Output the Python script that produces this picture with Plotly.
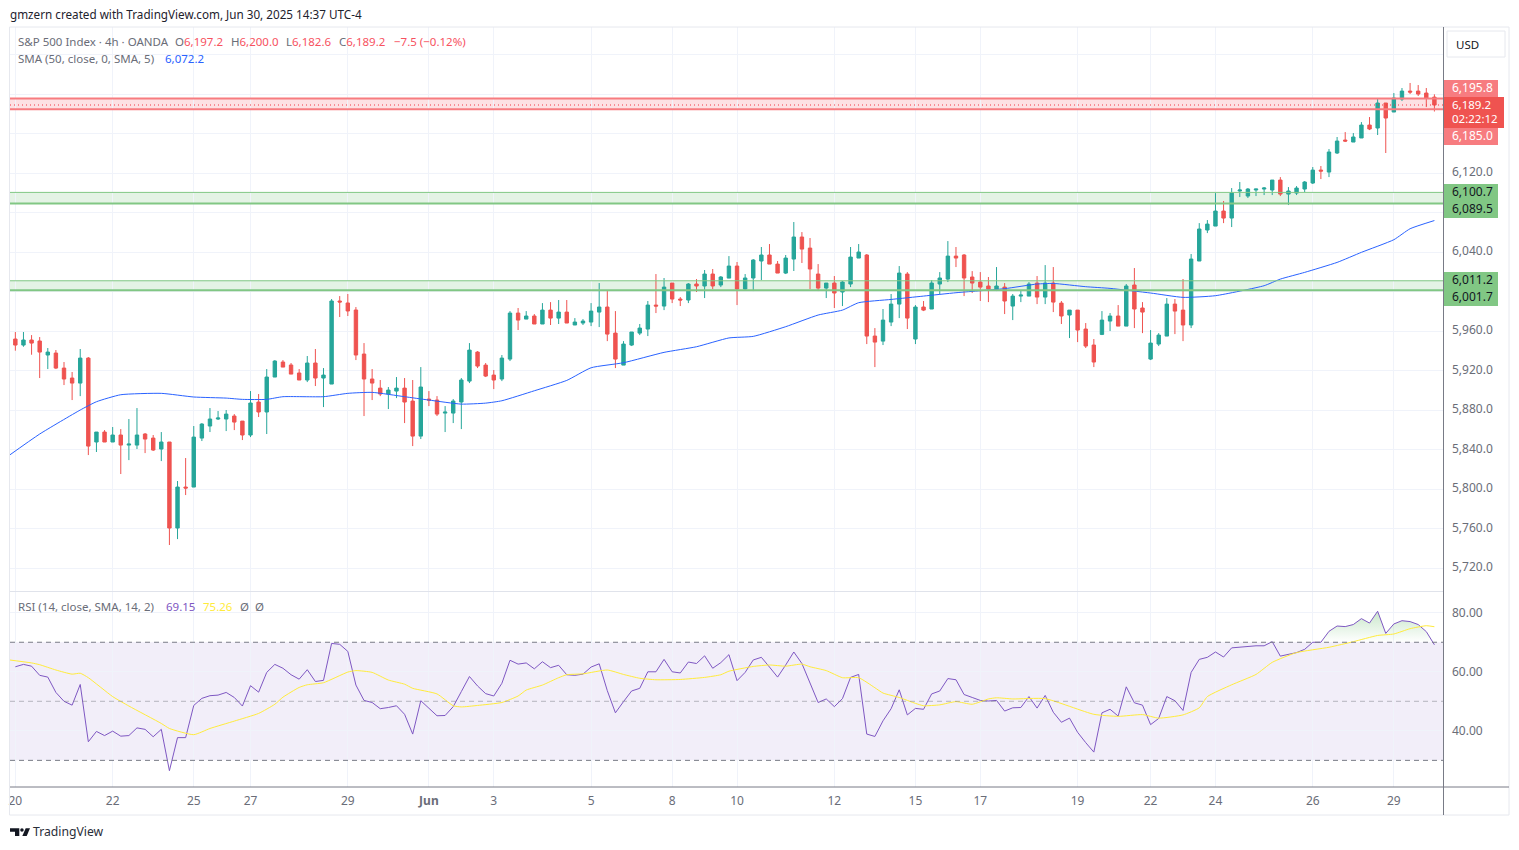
import plotly.graph_objects as go
from plotly.subplots import make_subplots

opens = [5952.2, 5946.1, 5951.2, 5950.2, 5936.0, 5938.0, 5922.8, 5912.7, 5907.6, 5932.9,
         5847.9, 5858.0, 5847.9, 5855.0, 5844.8, 5844.8, 5856.0, 5851.9, 5840.8, 5847.9,
         5760.8, 5802.3, 5802.3, 5851.9, 5864.1, 5871.2, 5871.2, 5874.2, 5869.1, 5855.0,
         5888.4, 5878.3, 5913.7, 5928.9, 5925.9, 5917.8, 5910.7, 5927.9, 5912.7, 5906.6,
         5990.7, 5988.7, 5981.6, 5937.0, 5911.7, 5902.5, 5896.5, 5899.5, 5902.5, 5889.4,
         5853.9, 5891.4, 5890.4, 5877.2, 5877.2, 5888.4, 5909.6, 5939.0, 5925.8, 5915.7,
         5911.7, 5931.9, 5978.5, 5972.4, 5975.5, 5967.4, 5981.5, 5973.4, 5979.5, 5966.4,
         5968.4, 5969.4, 5979.5, 5984.6, 5958.2, 5925.8, 5946.1, 5958.2, 5962.3, 5986.6,
         5985.6, 6008.9, 5992.7, 5991.7, 6007.9, 6005.9, 6018.0, 6006.9, 6013.9, 6026.1,
         6002.8, 6014.0, 6031.2, 6037.3, 6028.1, 6019.0, 6033.2, 6055.5, 6044.3, 6018.0,
         6003.8, 6008.9, 5999.8, 6007.9, 6034.2, 6037.3, 5955.2, 5950.1, 5969.4, 5987.6,
         6018.0, 5952.2, 5984.6, 5982.6, 6007.9, 6012.9, 6036.2, 6037.3, 6015.0, 6009.9,
         6005.9, 6002.8, 6004.8, 5985.6, 5995.7, 5995.7, 6008.9, 5994.7, 6008.9, 5988.6,
         5976.5, 5981.5, 5962.3, 5946.1, 5956.9, 5970.4, 5975.5, 5965.3, 6006.9, 5983.6,
         5931.9, 5947.1, 5955.2, 5987.6, 5981.5, 5966.4, 6031.2, 6062.6, 6066.6, 6081.8,
         6074.7, 6102.1, 6097.0, 6103.1, 6104.1, 6103.1, 6113.2, 6099.0, 6100.0, 6104.1,
         6110.2, 6123.3, 6121.3, 6140.6, 6153.7, 6151.7, 6155.8, 6168.9, 6165.9, 6191.2,
         6182.1, 6195.2, 6203.3, 6203.3, 6201.3, 6197.2]
highs = [5959.3, 5959.3, 5956.2, 5954.2, 5943.1, 5941.1, 5928.9, 5918.8, 5942.1, 5934.0,
         5858.0, 5860.0, 5863.1, 5861.0, 5871.2, 5882.3, 5857.0, 5855.0, 5858.0, 5847.9,
         5808.4, 5831.7, 5864.1, 5867.1, 5882.3, 5879.3, 5880.3, 5876.2, 5869.1, 5899.5,
         5896.5, 5921.8, 5930.9, 5930.9, 5927.9, 5921.8, 5935.0, 5942.1, 5922.8, 5992.7,
         5995.7, 5997.8, 5984.6, 5948.1, 5921.8, 5910.7, 5903.6, 5913.7, 5912.7, 5910.7,
         5923.8, 5899.5, 5894.4, 5884.3, 5891.4, 5912.7, 5948.1, 5940.0, 5927.9, 5920.8,
         5936.0, 5980.5, 5983.6, 5980.5, 5977.5, 5988.6, 5989.6, 5991.7, 5991.7, 5973.4,
         5972.4, 5988.6, 6008.9, 6000.8, 5980.5, 5950.1, 5959.3, 5967.4, 5990.7, 6018.0,
         6014.0, 6008.9, 5994.7, 6008.9, 6012.9, 6022.1, 6023.1, 6016.0, 6036.2, 6030.2,
         6018.0, 6033.2, 6045.4, 6048.4, 6031.2, 6037.3, 6070.7, 6060.5, 6054.5, 6028.1,
         6008.9, 6016.0, 6010.9, 6045.4, 6048.4, 6038.3, 5963.3, 5982.6, 5997.8, 6026.1,
         6020.0, 5986.6, 5990.7, 6011.9, 6020.0, 6051.4, 6045.4, 6038.3, 6021.0, 6020.0,
         6015.0, 6025.1, 6008.9, 5997.8, 6001.8, 6009.9, 6016.0, 6027.1, 6025.1, 5990.7,
         5981.5, 5981.5, 5968.4, 5952.2, 5980.5, 5978.5, 5986.6, 6007.9, 6024.1, 5989.6,
         5961.3, 5958.2, 5993.7, 5992.7, 6013.0, 6038.3, 6069.6, 6072.7, 6100.0, 6092.0,
         6105.1, 6111.2, 6105.1, 6104.1, 6106.1, 6113.2, 6116.2, 6106.1, 6107.1, 6112.2,
         6126.4, 6127.4, 6144.6, 6156.8, 6161.8, 6160.8, 6171.9, 6177.0, 6196.3, 6191.2,
         6201.3, 6206.4, 6211.5, 6209.4, 6206.4, 6200.0]
lows = [5940.4, 5944.4, 5936.3, 5912.7, 5921.8, 5921.8, 5905.6, 5890.4, 5894.4, 5834.7,
        5837.8, 5847.9, 5847.9, 5815.5, 5829.6, 5840.8, 5836.7, 5838.8, 5828.6, 5743.6,
        5749.6, 5794.2, 5802.3, 5848.9, 5858.0, 5870.2, 5859.0, 5860.0, 5849.9, 5852.9,
        5873.2, 5856.0, 5913.7, 5923.8, 5916.7, 5910.7, 5908.6, 5904.6, 5883.3, 5906.6,
        5974.5, 5975.5, 5930.9, 5874.2, 5890.4, 5894.4, 5881.3, 5892.4, 5867.1, 5843.8,
        5850.9, 5884.3, 5874.2, 5858.0, 5867.1, 5861.0, 5907.6, 5922.8, 5913.7, 5901.5,
        5909.6, 5929.9, 5961.3, 5972.4, 5967.4, 5967.4, 5966.4, 5967.4, 5968.4, 5966.4,
        5966.4, 5965.3, 5964.3, 5950.1, 5922.8, 5925.8, 5945.1, 5956.2, 5955.2, 5978.5,
        5981.5, 5988.6, 5985.6, 5988.6, 5999.8, 5993.7, 6002.8, 6004.8, 6013.9, 5986.6,
        6001.8, 6000.8, 6011.9, 6028.1, 6019.0, 6018.0, 6021.1, 6029.2, 6002.8, 6000.8,
        5993.7, 5983.6, 5985.6, 6004.8, 6034.2, 5947.1, 5923.8, 5946.1, 5965.3, 5973.4,
        5962.3, 5947.1, 5980.5, 5982.6, 5997.8, 6009.9, 6025.1, 5995.7, 5998.8, 5990.7,
        5989.6, 6000.8, 5977.5, 5971.4, 5989.6, 5995.7, 5987.6, 5987.6, 5979.5, 5967.4,
        5953.2, 5949.1, 5943.1, 5923.8, 5956.2, 5960.3, 5965.3, 5965.3, 5963.3, 5958.2,
        5930.9, 5945.1, 5955.2, 5957.2, 5950.1, 5963.3, 6031.2, 6059.5, 6066.6, 6069.6,
        6065.6, 6096.0, 6095.0, 6097.0, 6098.0, 6098.0, 6097.0, 6087.9, 6098.0, 6101.1,
        6109.2, 6114.2, 6116.2, 6139.6, 6151.7, 6151.7, 6155.8, 6163.8, 6158.8, 6140.6,
        6182.1, 6193.2, 6200.3, 6198.3, 6187.1, 6182.6]
closes = [5946.1, 5951.2, 5948.1, 5939.0, 5939.0, 5922.8, 5911.7, 5907.6, 5932.9, 5843.8,
          5858.0, 5847.9, 5855.0, 5844.8, 5845.8, 5855.0, 5850.9, 5839.8, 5847.9, 5760.8,
          5802.3, 5801.3, 5852.9, 5866.1, 5871.2, 5872.2, 5876.2, 5868.1, 5855.0, 5887.4,
          5878.3, 5913.7, 5929.9, 5923.8, 5916.7, 5910.7, 5927.9, 5912.7, 5915.7, 5990.7,
          5989.7, 5980.6, 5936.0, 5911.7, 5907.6, 5896.5, 5900.5, 5902.5, 5888.4, 5853.9,
          5903.6, 5890.4, 5876.2, 5878.2, 5889.4, 5910.7, 5941.0, 5924.8, 5914.7, 5910.7,
          5932.9, 5978.5, 5971.4, 5975.5, 5967.4, 5981.5, 5973.4, 5979.5, 5968.4, 5969.4,
          5970.4, 5980.5, 5984.6, 5957.2, 5931.9, 5947.1, 5959.3, 5963.3, 5986.6, 5985.6,
          6004.8, 5992.7, 5991.7, 6007.9, 6005.9, 6018.0, 6005.9, 6015.0, 6026.1, 6002.8,
          6014.0, 6032.2, 6037.3, 6028.1, 6019.0, 6034.2, 6055.5, 6043.3, 6023.1, 6003.8,
          6008.9, 5998.8, 6009.9, 6035.2, 6040.3, 5955.2, 5949.1, 5971.4, 5987.6, 6019.0,
          5973.4, 5984.6, 5981.5, 6008.9, 6014.0, 6036.2, 6034.2, 6014.0, 6008.9, 6004.8,
          6002.8, 6005.9, 5990.7, 5995.7, 5996.7, 6007.9, 5994.7, 6008.9, 5989.6, 5975.5,
          5981.5, 5961.3, 5945.1, 5928.9, 5971.4, 5975.5, 5965.3, 6005.9, 5982.6, 5979.5,
          5948.1, 5956.2, 5987.6, 5980.5, 5966.4, 6033.2, 6063.6, 6068.6, 6081.8, 6074.7,
          6100.0, 6103.1, 6104.1, 6104.1, 6105.1, 6113.2, 6099.0, 6102.1, 6105.1, 6111.2,
          6123.3, 6122.3, 6141.6, 6152.7, 6152.7, 6156.8, 6168.9, 6164.9, 6191.2, 6176.0,
          6196.3, 6203.3, 6202.3, 6200.3, 6196.3, 6189.2]

sma_idx = [-1, 3, 8, 10, 13, 18, 22, 26, 28, 31, 33, 38, 41, 44, 48, 51, 55, 58, 60, 64, 68, 71,
           75, 80, 84, 88, 91, 95, 99, 102, 104, 108, 112, 116, 119, 122, 126, 128, 132, 135,
           140, 144, 148, 154, 156, 159, 163, 166, 170, 172, 175]
sma_vals = [5833.0, 5856.0, 5880.3, 5888.7, 5895.8, 5897.2, 5893.5, 5892.4, 5891.1, 5891.1, 5893.8,
            5893.8, 5897.2, 5898.2, 5893.8, 5890.4, 5886.3, 5887.3, 5889.7, 5899.8, 5910.3, 5923.1,
            5928.2, 5938.7, 5944.4, 5953.3, 5954.9, 5964.7, 5976.5, 5981.5, 5989.0, 5992.3, 5995.7,
            5999.1, 6001.1, 6003.2, 6007.9, 6008.5, 6005.2, 6003.5, 5998.8, 5994.4, 5996.1, 6006.2,
            6012.9, 6019.7, 6029.8, 6040.0, 6052.8, 6063.9, 6072.2]

rsi = [61.7, 62.5, 61.9, 58.8, 58.2, 53.0, 50.0, 48.7, 55.7, 36.3, 39.8, 38.4, 39.9, 38.2, 38.4, 41.0,
       40.5, 38.0, 40.5, 26.5, 37.7, 37.7, 48.6, 51.0, 51.9, 52.1, 53.0, 51.3, 48.4, 55.3, 53.1, 59.8,
       62.5, 61.2, 59.0, 57.5, 60.7, 56.7, 57.1, 69.6, 69.3, 66.9, 55.5, 50.3, 49.6, 47.5, 47.9, 48.5,
       45.6, 38.9, 50.2, 47.7, 45.1, 45.2, 48.2, 53.3, 58.4, 55.2, 52.6, 51.8, 56.1, 63.9, 62.6, 63.0,
       61.0, 63.4, 61.4, 62.2, 59.0, 58.8, 59.2, 61.6, 62.7, 53.6, 46.1, 49.9, 53.5, 54.4, 60.0, 60.0,
       64.2, 60.0, 59.6, 63.3, 62.8, 65.4, 61.2, 63.1, 65.8, 57.0, 59.8, 64.0, 64.9, 61.6, 58.2, 62.3,
       66.7, 62.8, 56.1, 49.6, 50.8, 48.2, 50.9, 58.1, 59.1, 38.9, 38.1, 43.4, 47.5, 53.9, 45.4, 47.6,
       47.3, 52.5, 53.5, 57.7, 57.3, 52.3, 51.3, 50.3, 50.1, 50.3, 46.7, 47.8, 47.9, 51.6, 47.7, 52.0,
       46.3, 42.9, 44.3, 39.5, 36.0, 32.8, 46.1, 47.3, 45.0, 54.9, 49.5, 48.7, 42.1, 44.2, 51.6, 50.2,
       46.9, 59.8, 64.2, 64.9, 66.7, 65.0, 68.1, 68.3, 68.7, 68.8, 68.8, 70.2, 65.3, 65.9, 66.5, 67.6,
       70.0, 70.0, 73.7, 75.5, 75.3, 76.0, 78.0, 76.5, 80.5, 73.0, 76.2, 77.3, 77.0, 76.0, 73.6, 69.15]

rsi_ma_idx = [-1, 2, 3, 5, 7, 8, 9, 12, 14, 18, 19, 22, 24, 27, 30, 32, 33, 35, 36, 38, 41, 42, 44, 46,
              48, 49, 52, 54, 55, 57, 60, 62, 63, 65, 67, 68, 70, 73, 75, 77, 79, 82, 85, 87, 88, 91,
              93, 95, 97, 98, 100, 102, 104, 106, 107, 109, 111, 112, 114, 116, 118, 120, 121, 123,
              127, 133, 136, 139, 141, 144, 146, 147, 150, 153, 155, 158, 162, 165, 168, 170, 172,
              174, 175]
rsi_ma_vals = [64.1, 63.0, 62.4, 60.6, 59.2, 59.5, 58.0, 51.6, 48.4, 42.5, 40.8, 38.7, 40.8, 43.3, 45.9,
               49.0, 51.4, 54.7, 55.6, 56.3, 59.9, 60.4, 59.8, 57.2, 55.8, 54.4, 52.5, 48.5, 48.1, 48.6,
               49.6, 51.8, 53.8, 55.5, 58.0, 59.0, 59.3, 60.6, 59.1, 57.8, 57.3, 57.4, 58.1, 59.0, 60.2,
               61.8, 62.3, 61.9, 62.6, 61.7, 60.4, 58.0, 58.0, 54.6, 52.8, 51.3, 49.3, 48.5, 48.8, 49.9,
               49.0, 50.8, 51.2, 50.8, 50.9, 45.6, 44.9, 45.5, 44.3, 45.4, 47.8, 51.6, 55.6, 59.1, 63.2,
               66.5, 68.3, 70.2, 72.3, 72.8, 74.6, 75.6, 75.26]

date_idx = [0, 12, 22, 29, 41, 51, 59, 71, 81, 89, 101, 111, 119, 131, 140, 148, 160, 170]
date_labels = ["20", "22", "25", "27", "29", "<b>Jun</b>", "3", "5", "8", "10", "12", "15", "17", "19",
               "22", "24", "26", "29"]
grid_ticks = [5720, 5760, 5800, 5840, 5880, 5920, 5960, 6000, 6040, 6080, 6120, 6160, 6200, 6240]
price_ticks = [5720, 5760, 5800, 5840, 5880, 5920, 5960, 6040, 6120]
price_labels = ["5,720.0", "5,760.0", "5,800.0", "5,840.0", "5,880.0", "5,920.0", "5,960.0", "6,040.0", "6,120.0"]
rsi_ticks = [40, 60, 80]
rsi_labels = ["40.00", "60.00", "80.00"]

green_zones = [(6100.7, 6089.5), (6011.2, 6001.7)]
red_zone = (6195.8, 6185.0)
last_close = 6189.2

font = "Noto Sans"
txt = "#6a6d78"
grid = "#f0f3fa"
up = "#26a69a"
down = "#ef5350"
W, H = 1519, 850
L, R, T, B = 10, 1443, 27, 787


def px(x):
    return (x - L) / (R - L)


def py(y):
    return (B - y) / (B - T)


x = list(range(len(closes)))

fig = make_subplots(rows=2, cols=1, shared_xaxes=True, vertical_spacing=0, row_heights=[0.7428, 0.2572])

fig.add_trace(go.Candlestick(x=x, open=opens, high=highs, low=lows, close=closes,
                             increasing=dict(line=dict(color=up, width=1), fillcolor=up),
                             decreasing=dict(line=dict(color=down, width=1), fillcolor=down),
                             whiskerwidth=0, showlegend=False, hoverinfo="skip"), row=1, col=1)
fig.add_trace(go.Scatter(x=sma_idx, y=sma_vals, mode="lines",
                         line=dict(color="#2962ff", width=1, shape="spline", smoothing=0.5),
                         showlegend=False), row=1, col=1)

# overbought fill on the rsi pane
ob_x = x[160:]
ob_y = [max(v, 70) for v in rsi[160:]]
fig.add_trace(go.Scatter(x=ob_x, y=[70] * len(ob_x), mode="lines", line=dict(width=0), showlegend=False), row=2, col=1)
fig.add_trace(go.Scatter(x=ob_x, y=ob_y, mode="lines", line=dict(width=0), fill="tonexty",
                         fillgradient=dict(type="vertical",
                                           colorscale=[[0, "rgba(76,175,80,0)"], [1, "rgba(76,175,80,0.3)"]]),
                         showlegend=False), row=2, col=1)
fig.add_trace(go.Scatter(x=x, y=rsi, mode="lines", line=dict(color="#7e57c2", width=1), showlegend=False), row=2, col=1)
fig.add_trace(go.Scatter(x=rsi_ma_idx, y=rsi_ma_vals, mode="lines",
                         line=dict(color="#ffeb3b", width=1, shape="spline", smoothing=0.5),
                         showlegend=False), row=2, col=1)

shapes = []
for top, bot in green_zones:
    shapes.append(dict(type="rect", xref="x domain", x0=0, x1=1, yref="y", y0=bot, y1=top, layer="below",
                       fillcolor="rgba(76,175,80,0.15)", line_width=0))
    shapes.append(dict(type="line", xref="x domain", x0=0, x1=1, yref="y", y0=top, y1=top,
                       line=dict(color="#81c784", width=1)))
    shapes.append(dict(type="line", xref="x domain", x0=0, x1=1, yref="y", y0=bot, y1=bot,
                       line=dict(color="#81c784", width=2)))
shapes.append(dict(type="rect", xref="x domain", x0=0, x1=1, yref="y", y0=red_zone[1], y1=red_zone[0], layer="below",
                   fillcolor="rgba(242,54,69,0.15)", line_width=0))
for v in red_zone:
    shapes.append(dict(type="line", xref="x domain", x0=0, x1=1, yref="y", y0=v, y1=v,
                       line=dict(color="#f77c80", width=2)))
shapes.append(dict(type="line", xref="x domain", x0=0, x1=1, yref="y", y0=last_close, y1=last_close,
                   line=dict(color="#f23645", width=1, dash="1px,3px")))

# rsi band
shapes.append(dict(type="rect", xref="x2 domain", x0=0, x1=1, yref="y2", y0=30, y1=70, layer="below",
                   fillcolor="rgba(126,87,194,0.1)", line_width=0))
for v, c in [(70, "#787b86"), (30, "#787b86"), (50, "rgba(120,123,134,0.5)")]:
    shapes.append(dict(type="line", xref="x2 domain", x0=0, x1=1, yref="y2", y0=v, y1=v,
                       line=dict(color=c, width=1, dash="5px,4px")))


def box(x0, y0, x1, y1, fill=None, line=None):
    shapes.append(dict(type="rect", xref="paper", yref="paper", x0=px(x0), x1=px(x1), y0=py(y1), y1=py(y0),
                       fillcolor=fill or "rgba(0,0,0,0)", line=dict(color=line or "rgba(0,0,0,0)", width=1)))


def seg(x0, y0, x1, y1, color):
    shapes.append(dict(type="line", xref="paper", yref="paper", x0=px(x0), x1=px(x1), y0=py(y0), y1=py(y1),
                       line=dict(color=color, width=1)))


def poly(points, color="#131722"):
    path = "M" + " L".join(f"{px(a):.5f},{py(b):.5f}" for a, b in points) + " Z"
    shapes.append(dict(type="path", xref="paper", yref="paper", path=path, fillcolor=color, line_width=0))


# frame, axis lines
box(9.5, 27, 1509, 815, line="#e6e8ee")
seg(10, 591.5, 1443, 591.5, "#e0e3eb")
seg(1443.5, 27, 1443.5, 815, "#787b86")
seg(10, 787, 1509, 787, "#787b86")
box(1447, 31, 1505, 57, fill="#ffffff", line="#e6e8ee")

# price badges
box(1444, 80, 1498, 97, fill="#f77c80")
box(1444, 128, 1498, 145, fill="#f77c80")
box(1444, 97, 1504, 128, fill="#ef5350")
box(1444, 184, 1498, 218, fill="#81c784")
box(1444, 272, 1498, 306, fill="#81c784")

# footer logo
poly([(10, 828.3), (19.3, 828.3), (19.3, 836), (15, 836), (15, 831.7), (10, 831.7)])
shapes.append(dict(type="circle", xref="paper", yref="paper", x0=px(20.2), x1=px(23.7), y0=py(831.8), y1=py(828.3),
                   fillcolor="#131722", line_width=0))
poly([(25.7, 828.3), (30, 828.3), (26.7, 836), (22.3, 836)])

anns = []


def label(xp, yp, text, color=txt, size=11.5):
    anns.append(dict(xref="paper", yref="paper", x=px(xp), y=py(yp), xshift=-1, text=text, showarrow=False,
                     xanchor="left", yanchor="middle", borderpad=0,
                     font=dict(family=font, size=size, color=color)))


red_txt = "#f7525f"
label(10, 14, "gmzern created with TradingView.com, Jun 30, 2025 14:37 UTC-4", "#1e222d", 11.7)
label(18, 41.5, "S&P 500 Index · 4h · OANDA")
for xp, head, val in [(175, "O", "6,197.2"), (231, "H", "6,200.0"), (286, "L", "6,182.6"), (339, "C", "6,189.2")]:
    label(xp, 41.5, f"{head}<span style='color:{red_txt}'>{val}</span>")
label(394, 41.5, "−7.5 (−0.12%)", red_txt)
label(18, 58.5, "SMA (50, close, 0, SMA, 5)")
label(165, 58.5, "6,072.2", "#2962ff")
label(18, 606, "RSI (14, close, SMA, 14, 2)")
label(166, 606, "69.15", "#7e57c2")
label(203, 606, "75.26", "#ffeb3b")
label(240, 606, "Ø")
label(255, 606, "Ø")
label(1456, 44, "USD", "#131722")
for yp, text, color, size in [(87.5, "6,195.8", "#ffffff", 12), (105, "6,189.2", "#ffffff", 11.5),
                              (118.5, "02:22:12", "#ffffff", 11.5), (135.5, "6,185.0", "#ffffff", 12),
                              (191.5, "6,100.7", "#131722", 12), (208.5, "6,089.5", "#131722", 12),
                              (279.5, "6,011.2", "#131722", 12), (296.5, "6,001.7", "#131722", 12)]:
    label(1452, yp, text, color, size)
label(33, 832, "TradingView", "#2a2e39", 12.2)

# price scale labels sit slightly above their grid lines
for v, t in zip(price_ticks, price_labels):
    anns.append(dict(xref="paper", yref="y", x=px(1452), y=v, xshift=-1, yshift=1.7, text=t, showarrow=False,
                     xanchor="left", yanchor="middle", borderpad=0, font=dict(family=font, size=12, color=txt)))

fig.update_layout(width=W, height=H, autosize=False,
                  margin=dict(l=L, r=W - R, t=T, b=H - B, autoexpand=False),
                  paper_bgcolor="#ffffff", plot_bgcolor="#ffffff", showlegend=False, hovermode=False,
                  font=dict(family=font, size=12, color=txt), shapes=shapes, annotations=anns, boxgap=0.4)
fig.update_xaxes(range=[-0.66, 176.06], tickvals=date_idx, ticktext=date_labels, showgrid=True, gridcolor=grid,
                 gridwidth=1, zeroline=False, showline=False, ticks="", rangeslider_visible=False, automargin=False)
fig.update_xaxes(showticklabels=False, row=1, col=1)
fig.update_xaxes(showticklabels=True, ticklabelstandoff=5, row=2, col=1)
fig.update_yaxes(side="right", showgrid=True, gridcolor=grid, gridwidth=1, zeroline=False, showline=False, ticks="",
                 ticklabelstandoff=8, automargin=False)
fig.update_yaxes(range=[5696.5, 6268.2], tickvals=grid_ticks, showticklabels=False, row=1, col=1)
fig.update_yaxes(range=[20.98, 87.18], tickvals=rsi_ticks, ticktext=rsi_labels, row=2, col=1)

fig.write_html("out.html", config={"displayModeBar": False}, post_script="document.body.style.margin='0';")
